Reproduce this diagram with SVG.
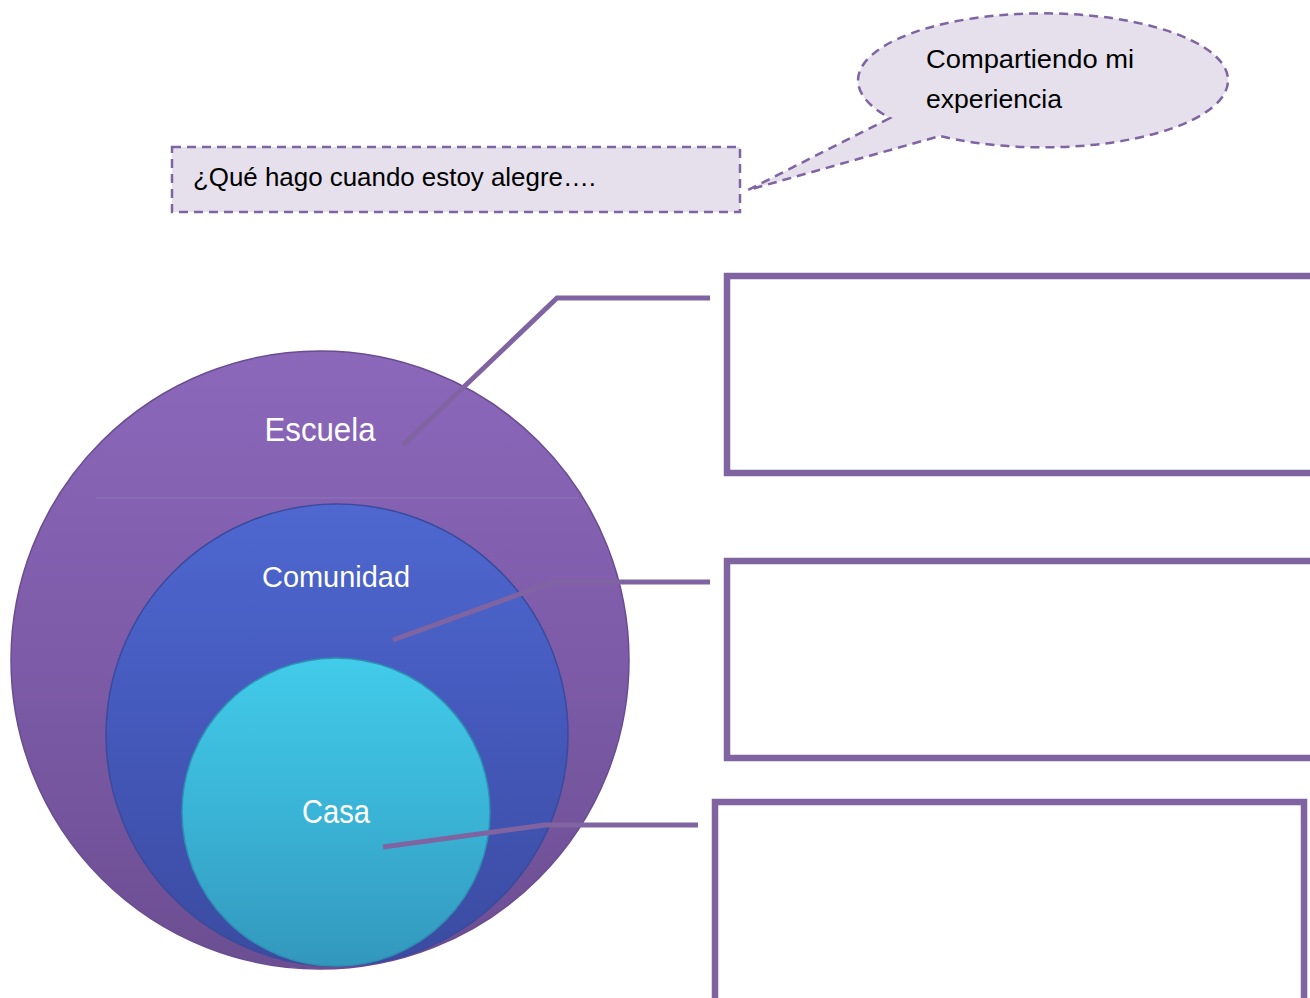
<svg xmlns="http://www.w3.org/2000/svg" width="1310" height="998" viewBox="0 0 1310 998">
<style>
.dash{fill:#E5E0EC;stroke:#8064A2;stroke-width:2.5;stroke-dasharray:9 6}
.box{fill:#FFFFFF;stroke:#8064A2;stroke-width:6.5}
.conn{fill:none;stroke:#8064A2;stroke-width:5}
.lbl{font-family:"Liberation Sans",Arial,sans-serif;fill:#FFFFFF;text-anchor:middle}
.txt{font-family:"Liberation Sans",Arial,sans-serif;fill:#000000;font-size:26px}
</style>
<defs>
<linearGradient id="gEsc" x1="0" y1="0" x2="0" y2="1">
<stop offset="0" stop-color="#8B68BA"/>
<stop offset="0.5" stop-color="#7D5BA8"/>
<stop offset="1" stop-color="#6C4E92"/>
</linearGradient>
<linearGradient id="gCom" x1="0" y1="0" x2="0" y2="1">
<stop offset="0" stop-color="#4E68D0"/>
<stop offset="0.5" stop-color="#4458BA"/>
<stop offset="1" stop-color="#3A4BA0"/>
</linearGradient>
<linearGradient id="gCasa" x1="0" y1="0" x2="0" y2="1">
<stop offset="0" stop-color="#42CBEA"/>
<stop offset="0.5" stop-color="#3AB4D6"/>
<stop offset="1" stop-color="#3397BD"/>
</linearGradient>
</defs>
<rect width="1310" height="998" fill="#FFFFFF"/>

<g id="pregunta">
<rect class="dash" x="172" y="147" width="568" height="65"/>
<text class="txt" x="193" y="186" textLength="403" lengthAdjust="spacingAndGlyphs">¿Qué hago cuando estoy alegre….</text>
</g>

<g id="globo">
<path class="dash" d="M890 118 L748 190 L940 136 A185 67 0 1 0 890 118 Z"/>
<text class="txt" x="926" y="68" textLength="208" lengthAdjust="spacingAndGlyphs">Compartiendo mi</text>
<text class="txt" x="926" y="108" textLength="136" lengthAdjust="spacingAndGlyphs">experiencia</text>
</g>

<g id="escuela">
<circle cx="320" cy="660" r="309" fill="url(#gEsc)" stroke="#6A4C90" stroke-width="1.5"/>
<line x1="96" y1="498" x2="578" y2="498" stroke="#9A80BE" stroke-width="1" opacity="0.6"/>
<text class="lbl" x="320" y="441" font-size="34" textLength="111" lengthAdjust="spacingAndGlyphs">Escuela</text>
</g>

<g id="comunidad">
<circle cx="337" cy="735" r="231" fill="url(#gCom)" stroke="#3A4A9C" stroke-width="1.5"/>
<text class="lbl" x="336" y="587" font-size="30" textLength="148" lengthAdjust="spacingAndGlyphs">Comunidad</text>
</g>

<g id="casa">
<circle cx="336" cy="812" r="154" fill="url(#gCasa)" stroke="#2F8FB3" stroke-width="1.5"/>
<text class="lbl" x="336" y="823" font-size="34" textLength="68" lengthAdjust="spacingAndGlyphs">Casa</text>
</g>

<g id="caja1"><rect class="box" x="727" y="276" width="600" height="197"/></g>
<g id="caja2"><rect class="box" x="727" y="561" width="600" height="197"/></g>
<g id="caja3"><rect class="box" x="715" y="802" width="589" height="210"/></g>

<g id="conectores">
<polyline class="conn" points="403,445 557,298 710,298"/>
<polyline class="conn" points="393,640 553,582 710,582"/>
<polyline class="conn" points="383,847 545,825 698,825"/>
</g>
</svg>
